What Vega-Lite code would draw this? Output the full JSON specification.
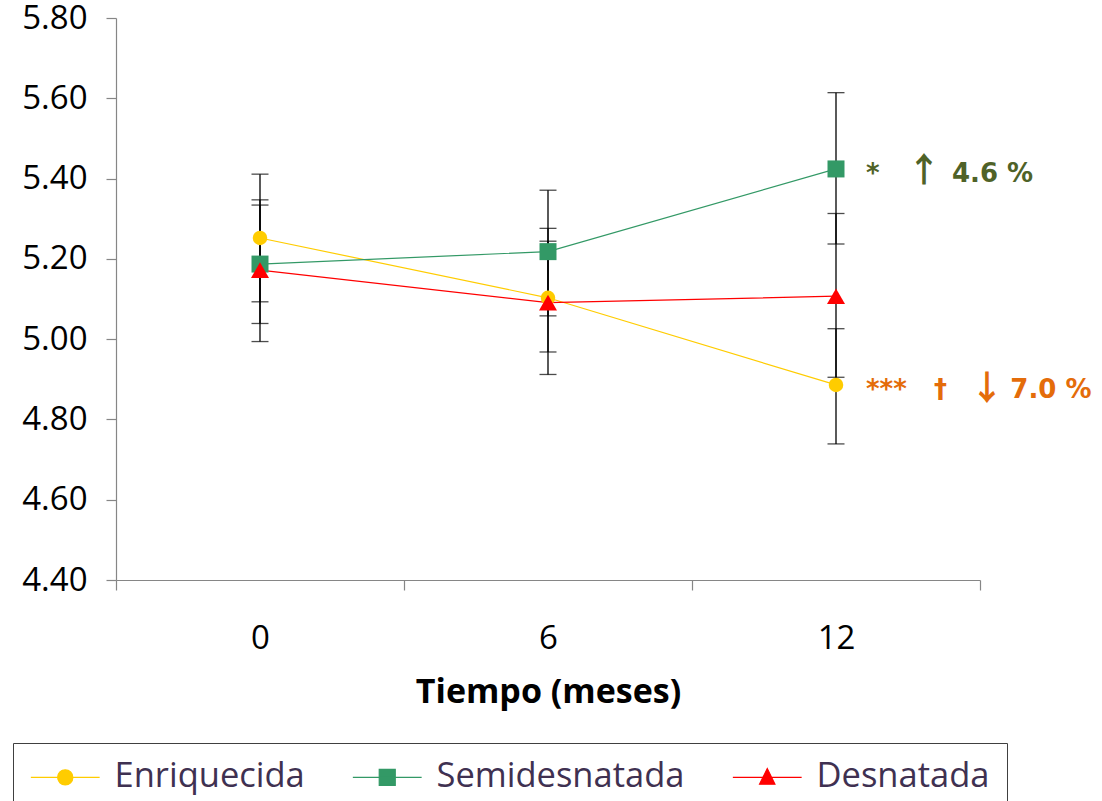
{
  "$schema": "https://vega.github.io/schema/vega-lite/v6.json",
  "width": 864,
  "height": 562,
  "autosize": {"type": "none"},
  "padding": {"left": 116, "top": 18, "right": 122, "bottom": 221},
  "background": "white",
  "config": {
    "view": {"stroke": null},
    "font": "Open Sans",
    "axisY": {"grid": false, "tickSize": 10, "labelPadding": 19, "labelFontSize": 33, "labelColor": "black", "labelFont": "Open Sans", "domainColor": "#868686", "tickColor": "#868686", "domainWidth": 1.2, "tickWidth": 1.2},
    "axisX": {"grid": false, "tickSize": 10, "labelPadding": 32, "labelFontSize": 33, "labelColor": "black", "labelFont": "Open Sans", "titleFont": "Open Sans", "titleFontSize": 34, "titleFontWeight": "bold", "titleColor": "black", "titlePadding": 20, "domainColor": "#868686", "tickColor": "#868686", "domainWidth": 1.2, "tickWidth": 1.2}
  },
  "datasets": {
    "medias": [
      {"serie": "Enriquecida", "mes": 0, "valor": 5.252, "lo": 5.093, "hi": 5.411},
      {"serie": "Enriquecida", "mes": 6, "valor": 5.103, "lo": 4.912, "hi": 5.276},
      {"serie": "Enriquecida", "mes": 12, "valor": 4.886, "lo": 4.739, "hi": 5.026},
      {"serie": "Semidesnatada", "mes": 0, "valor": 5.187, "lo": 5.039, "hi": 5.334},
      {"serie": "Semidesnatada", "mes": 6, "valor": 5.218, "lo": 5.058, "hi": 5.371},
      {"serie": "Semidesnatada", "mes": 12, "valor": 5.424, "lo": 5.237, "hi": 5.614},
      {"serie": "Desnatada", "mes": 0, "valor": 5.172, "lo": 4.994, "hi": 5.347},
      {"serie": "Desnatada", "mes": 6, "valor": 5.091, "lo": 4.968, "hi": 5.244},
      {"serie": "Desnatada", "mes": 12, "valor": 5.107, "lo": 4.905, "hi": 5.313}
    ],
    "notas": [
      {"grupo": "Semidesnatada", "mes": 12, "valor": 5.424, "texto": "*\u00a0\u00a0\u00a0\u00a0\u00a0\u00a0\u00a0\u00a04.6 %", "flecha": "↑"},
      {"grupo": "Enriquecida", "mes": 12, "valor": 4.886, "texto": "***\u00a0\u00a0\u00a0†\u00a0\u00a0\u00a0\u00a0\u00a0\u00a0\u00a07.0 %", "flecha": "↓"}
    ]
  },
  "encoding": {
    "x": {
      "field": "mes",
      "type": "quantitative",
      "title": "Tiempo (meses)",
      "scale": {"domain": [-3, 15], "nice": false, "zero": false},
      "axis": {
        "values": [-3, 0, 3, 6, 9, 12, 15],
        "labelExpr": "abs(datum.value % 6) == 0 ? datum.label : ''",
        "tickOpacity": {"condition": {"test": "abs(datum.value % 6) == 3", "value": 1}, "value": 0}
      }
    }
  },
  "layer": [
    {
      "data": {"name": "medias"},
      "mark": {"type": "rule", "color": "black", "strokeWidth": 1.3},
      "encoding": {
        "y": {"field": "lo", "type": "quantitative", "title": null,
              "scale": {"domain": [4.4, 5.8], "nice": false, "zero": false},
              "axis": {"values": [4.4, 4.6, 4.8, 5.0, 5.2, 5.4, 5.6, 5.8], "format": ".2f"}},
        "y2": {"field": "hi"}
      }
    },
    {
      "data": {"name": "medias"},
      "mark": {"type": "tick", "orient": "horizontal", "color": "black", "size": 17, "thickness": 1.3},
      "encoding": {"y": {"field": "lo", "type": "quantitative", "title": null}}
    },
    {
      "data": {"name": "medias"},
      "mark": {"type": "tick", "orient": "horizontal", "color": "black", "size": 17, "thickness": 1.3},
      "encoding": {"y": {"field": "hi", "type": "quantitative", "title": null}}
    },
    {
      "data": {"name": "medias"},
      "mark": {"type": "point", "filled": true, "opacity": 0},
      "encoding": {
        "y": {"field": "valor", "type": "quantitative", "title": null},
        "color": {"field": "serie", "type": "nominal"},
        "stroke": {"field": "serie", "type": "nominal",
                   "scale": {"domain": ["Enriquecida", "Semidesnatada", "Desnatada"], "range": ["#FFCC00", "#339966", "#FF0000"]}},
        "shape": {"field": "serie", "type": "nominal",
                  "scale": {"domain": ["Enriquecida", "Semidesnatada", "Desnatada"],
                            "range": ["M-4.3,0H4.3M0.95,0A0.95,0.95,0,1,1,-0.95,0A0.95,0.95,0,1,1,0.95,0Z", "M-4.3,0H4.3M-1,-1H1V1H-1Z", "M-4.3,0H4.3M0,-1.1L0.96,0.86H-0.96Z"]}}
      }
    },
    {
      "data": {"name": "medias"},
      "mark": {"type": "line", "strokeWidth": 1.2},
      "encoding": {
        "y": {"field": "valor", "type": "quantitative", "title": null},
        "color": {
          "field": "serie", "type": "nominal",
          "scale": {"domain": ["Enriquecida", "Semidesnatada", "Desnatada"], "range": ["#FFCC00", "#339966", "#FF0000"]},
          "legend": {
            "orient": "none", "legendX": -103, "legendY": 725, "direction": "horizontal",
            "title": null, "symbolSize": 256, "symbolOffset": 18, "labelOffset": 32, "columnPadding": 45,
            "padding": 17, "strokeColor": "#404040", "labelLimit": 400,
            "labelFontSize": 34.5, "labelColor": "#3F3151", "labelFont": "Open Sans",
            "symbolStrokeWidth": 1.2, "symbolOpacity": 1
          }
        }
      }
    },
    {
      "data": {"name": "medias"},
      "transform": [{"filter": "datum.serie === 'Enriquecida'"}],
      "mark": {"type": "point", "filled": true, "opacity": 1, "strokeWidth": 0, "shape": "circle", "size": 210},
      "encoding": {
        "y": {"field": "valor", "type": "quantitative", "title": null},
        "color": {"field": "serie", "type": "nominal"}
      }
    },
    {
      "data": {"name": "medias"},
      "transform": [{"filter": "datum.serie === 'Semidesnatada'"}],
      "mark": {"type": "point", "filled": true, "opacity": 1, "strokeWidth": 0, "shape": "square", "size": 289},
      "encoding": {
        "y": {"field": "valor", "type": "quantitative", "title": null},
        "color": {"field": "serie", "type": "nominal"}
      }
    },
    {
      "data": {"name": "medias"},
      "transform": [{"filter": "datum.serie === 'Desnatada'"}],
      "mark": {"type": "point", "filled": true, "opacity": 1, "strokeWidth": 0, "shape": "triangle-up", "size": 324},
      "encoding": {
        "y": {"field": "valor", "type": "quantitative", "title": null},
        "color": {"field": "serie", "type": "nominal"}
      }
    },
    {
      "data": {"name": "notas"},
      "transform": [{"filter": "datum.grupo === 'Semidesnatada'"}],
      "mark": {"type": "text", "align": "left", "baseline": "middle", "dx": 30, "dy": 5, "font": "DejaVu Sans", "fontWeight": "bold", "fontSize": 26, "color": "#4F6228"},
      "encoding": {"y": {"field": "valor", "type": "quantitative", "title": null}, "text": {"field": "texto"}}
    },
    {
      "data": {"name": "notas"},
      "transform": [{"filter": "datum.grupo === 'Semidesnatada'"}],
      "mark": {"type": "text", "align": "center", "baseline": "middle", "dx": 88, "dy": 3, "font": "Noto Sans CJK JP", "fontWeight": "bold", "fontSize": 34, "color": "#4F6228"},
      "encoding": {"y": {"field": "valor", "type": "quantitative", "title": null}, "text": {"field": "flecha"}}
    },
    {
      "data": {"name": "notas"},
      "transform": [{"filter": "datum.grupo === 'Enriquecida'"}],
      "mark": {"type": "text", "align": "left", "baseline": "middle", "dx": 30, "dy": 5, "font": "DejaVu Sans", "fontWeight": "bold", "fontSize": 26, "color": "#E46C0A"},
      "encoding": {"y": {"field": "valor", "type": "quantitative", "title": null}, "text": {"field": "texto"}}
    },
    {
      "data": {"name": "notas"},
      "transform": [{"filter": "datum.grupo === 'Enriquecida'"}],
      "mark": {"type": "text", "align": "center", "baseline": "middle", "dx": 151, "dy": 5, "font": "Noto Sans CJK JP", "fontWeight": "bold", "fontSize": 34, "color": "#E46C0A"},
      "encoding": {"y": {"field": "valor", "type": "quantitative", "title": null}, "text": {"field": "flecha"}}
    }
  ]
}
